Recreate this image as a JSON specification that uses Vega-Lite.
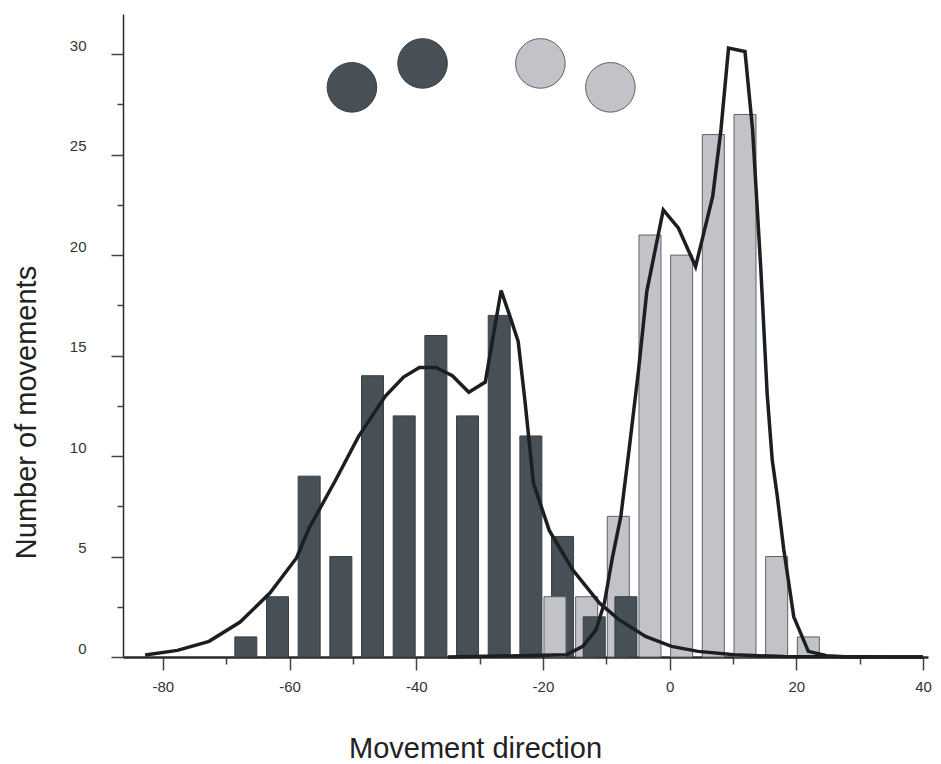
{
  "$schema": "https://vega.github.io/schema/vega-lite/v6.json",
  "width": 805,
  "height": 643,
  "autosize": "none",
  "padding": {"left": 123, "top": 14, "right": 13, "bottom": 107},
  "background": "#ffffff",
  "config": {
    "view": {"stroke": null},
    "font": "Liberation Sans"
  },
  "datasets": {
    "bars": [
      {"direction": -66.9, "count": 1, "group": "dark"},
      {"direction": -61.9, "count": 3, "group": "dark"},
      {"direction": -56.9, "count": 9, "group": "dark"},
      {"direction": -51.9, "count": 5, "group": "dark"},
      {"direction": -46.9, "count": 14, "group": "dark"},
      {"direction": -41.9, "count": 12, "group": "dark"},
      {"direction": -36.9, "count": 16, "group": "dark"},
      {"direction": -31.9, "count": 12, "group": "dark"},
      {"direction": -26.9, "count": 17, "group": "dark"},
      {"direction": -21.9, "count": 11, "group": "dark"},
      {"direction": -16.9, "count": 6, "group": "dark"},
      {"direction": -18.1, "count": 3, "group": "light"},
      {"direction": -13.1, "count": 3, "group": "light"},
      {"direction": -11.9, "count": 2, "group": "dark"},
      {"direction": -8.1, "count": 7, "group": "light"},
      {"direction": -6.9, "count": 3, "group": "dark"},
      {"direction": -3.1, "count": 21, "group": "light"},
      {"direction": 1.9, "count": 20, "group": "light"},
      {"direction": 6.9, "count": 26, "group": "light"},
      {"direction": 11.9, "count": 27, "group": "light"},
      {"direction": 16.9, "count": 5, "group": "light"},
      {"direction": 21.9, "count": 1, "group": "light"}
    ],
    "curves": [
      {"direction": -82.8, "count": 0.1, "group": "dark"},
      {"direction": -77.7, "count": 0.33, "group": "dark"},
      {"direction": -72.7, "count": 0.78, "group": "dark"},
      {"direction": -67.8, "count": 1.74, "group": "dark"},
      {"direction": -63.1, "count": 3.18, "group": "dark"},
      {"direction": -58.9, "count": 4.93, "group": "dark"},
      {"direction": -56.9, "count": 6.42, "group": "dark"},
      {"direction": -52.7, "count": 8.82, "group": "dark"},
      {"direction": -49.1, "count": 10.98, "group": "dark"},
      {"direction": -44.9, "count": 12.97, "group": "dark"},
      {"direction": -42.0, "count": 13.93, "group": "dark"},
      {"direction": -39.5, "count": 14.41, "group": "dark"},
      {"direction": -36.9, "count": 14.41, "group": "dark"},
      {"direction": -34.3, "count": 14.0, "group": "dark"},
      {"direction": -31.7, "count": 13.18, "group": "dark"},
      {"direction": -29.1, "count": 13.68, "group": "dark"},
      {"direction": -26.6, "count": 18.24, "group": "dark"},
      {"direction": -25.2, "count": 16.95, "group": "dark"},
      {"direction": -23.9, "count": 15.7, "group": "dark"},
      {"direction": -22.8, "count": 12.64, "group": "dark"},
      {"direction": -21.5, "count": 8.66, "group": "dark"},
      {"direction": -19.0, "count": 6.3, "group": "dark"},
      {"direction": -15.3, "count": 4.34, "group": "dark"},
      {"direction": -11.1, "count": 2.69, "group": "dark"},
      {"direction": -8.0, "count": 1.86, "group": "dark"},
      {"direction": -3.8, "count": 1.02, "group": "dark"},
      {"direction": 0.3, "count": 0.53, "group": "dark"},
      {"direction": 4.5, "count": 0.28, "group": "dark"},
      {"direction": 10.2, "count": 0.11, "group": "dark"},
      {"direction": 18.0, "count": 0.02, "group": "dark"},
      {"direction": 40.0, "count": 0, "group": "dark"},
      {"direction": -35.0, "count": 0, "group": "light"},
      {"direction": -16.3, "count": 0.11, "group": "light"},
      {"direction": -13.7, "count": 0.53, "group": "light"},
      {"direction": -11.6, "count": 1.36, "group": "light"},
      {"direction": -10.3, "count": 2.69, "group": "light"},
      {"direction": -9.0, "count": 5.0, "group": "light"},
      {"direction": -7.7, "count": 7.0, "group": "light"},
      {"direction": -6.4, "count": 10.31, "group": "light"},
      {"direction": -4.9, "count": 14.29, "group": "light"},
      {"direction": -3.6, "count": 18.2, "group": "light"},
      {"direction": -1.0, "count": 22.25, "group": "light"},
      {"direction": 1.4, "count": 21.34, "group": "light"},
      {"direction": 4.1, "count": 19.43, "group": "light"},
      {"direction": 6.8, "count": 22.92, "group": "light"},
      {"direction": 8.1, "count": 26.23, "group": "light"},
      {"direction": 9.3, "count": 30.3, "group": "light"},
      {"direction": 11.9, "count": 30.13, "group": "light"},
      {"direction": 13.1, "count": 26.23, "group": "light"},
      {"direction": 14.4, "count": 19.3, "group": "light"},
      {"direction": 15.4, "count": 13.1, "group": "light"},
      {"direction": 16.2, "count": 9.8, "group": "light"},
      {"direction": 17.0, "count": 8.0, "group": "light"},
      {"direction": 18.0, "count": 5.4, "group": "light"},
      {"direction": 19.6, "count": 2.0, "group": "light"},
      {"direction": 21.9, "count": 0.28, "group": "light"},
      {"direction": 24.8, "count": 0.06, "group": "light"},
      {"direction": 28.4, "count": 0, "group": "light"},
      {"direction": 40.0, "count": 0, "group": "light"}
    ],
    "markers": [
      {"direction": -50.15, "count": 28.35, "group": "dark"},
      {"direction": -39.0, "count": 29.54, "group": "dark"},
      {"direction": -20.4, "count": 29.54, "group": "light"},
      {"direction": -9.35, "count": 28.35, "group": "light"}
    ]
  },
  "encoding": {
    "x": {
      "field": "direction",
      "type": "quantitative",
      "scale": {"domain": [-85.5, 40], "nice": false, "zero": false},
      "axis": {
        "title": "Movement direction",
        "titleFont": "Liberation Sans",
        "titleFontSize": 29,
        "titleFontWeight": "normal",
        "titleColor": "#222222",
        "titleAnchor": "start",
        "titleAlign": "center",
        "titleBaseline": "alphabetic",
        "titleX": 352,
        "titleY": 100,
        "values": [-80, -70, -60, -50, -40, -30, -20, -10, 0, 10, 20, 30, 40],
        "labelExpr": "datum.value % 20 === 0 ? '' + datum.value : ''",
        "labelFont": "Liberation Sans",
        "labelFontSize": 15,
        "labelColor": "#333333",
        "labelPadding": 9,
        "labelFlush": false,
        "labelOverlap": false,
        "domainColor": "#2a2a2a",
        "domainWidth": 2.5,
        "tickColor": "#444444",
        "tickWidth": 1.5,
        "tickSize": {"condition": {"test": "datum.value % 20 === 0", "value": 13}, "value": 7},
        "grid": false
      }
    },
    "y": {
      "field": "count",
      "type": "quantitative",
      "scale": {"domain": [0, 32], "nice": false},
      "axis": {
        "title": "Number of movements",
        "titleFont": "Liberation Sans",
        "titleFontSize": 29,
        "titleFontWeight": "normal",
        "titleColor": "#222222",
        "titleAngle": -90,
        "titleAlign": "center",
        "titleBaseline": "alphabetic",
        "titleX": -88,
        "titleY": 398,
        "values": [0, 2.5, 5, 7.5, 10, 12.5, 15, 17.5, 20, 22.5, 25, 27.5, 30],
        "labelExpr": "datum.value % 5 === 0 ? datum.label : ''",
        "labelFont": "Liberation Sans",
        "labelFontSize": 15,
        "labelColor": "#333333",
        "labelPadding": 25,
        "labelOffset": -9,
        "labelOverlap": false,
        "domainColor": "#2a2a2a",
        "domainWidth": 1.5,
        "tickColor": "#444444",
        "tickWidth": 1.5,
        "tickSize": {"condition": {"test": "datum.value % 5 === 0", "value": 12}, "value": 6},
        "grid": false
      }
    }
  },
  "layer": [
    {
      "data": {"name": "bars"},
      "mark": {"type": "bar", "width": 22, "strokeWidth": 1},
      "encoding": {
        "y": {"field": "count", "type": "quantitative"},
        "color": {
          "field": "group",
          "type": "nominal",
          "scale": {"domain": ["dark", "light"], "range": ["#465056", "#c2c3c8"]},
          "legend": null
        },
        "stroke": {
          "field": "group",
          "type": "nominal",
          "scale": {"domain": ["dark", "light"], "range": ["#394146", "#5f6266"]},
          "legend": null
        }
      }
    },
    {
      "data": {"name": "curves"},
      "mark": {"type": "line", "color": "#1c1f22", "strokeWidth": 3.5, "strokeJoin": "miter"},
      "encoding": {
        "detail": {"field": "group", "type": "nominal"}
      }
    },
    {
      "data": {"name": "markers"},
      "mark": {"type": "point", "shape": "circle", "filled": true, "size": 2460, "opacity": 1, "strokeWidth": 1},
      "encoding": {
        "fill": {
          "field": "group",
          "type": "nominal",
          "scale": {"domain": ["dark", "light"], "range": ["#465056", "#c2c3c8"]},
          "legend": null
        },
        "stroke": {
          "field": "group",
          "type": "nominal",
          "scale": {"domain": ["dark", "light"], "range": ["#b8bcbf", "#a7a8ad"]},
          "legend": null
        }
      }
    }
  ]
}
